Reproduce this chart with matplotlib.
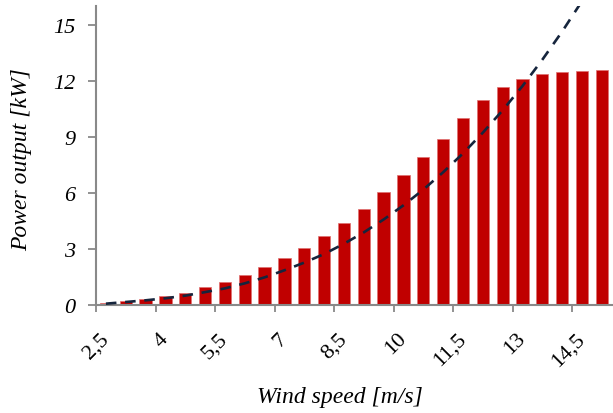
import matplotlib
matplotlib.use("Agg")
import matplotlib.pyplot as plt

# wind speed categories (m/s) and measured power output (kW)
wind_speeds = [2.5, 3, 3.5, 4, 4.5, 5, 5.5, 6, 6.5, 7, 7.5, 8, 8.5, 9, 9.5,
               10, 10.5, 11, 11.5, 12, 12.5, 13, 13.5, 14, 14.5, 15]
power_bars = [0.13, 0.21, 0.32, 0.48, 0.66, 0.95, 1.23, 1.59, 2.03, 2.50,
              3.03, 3.67, 4.40, 5.15, 6.04, 6.95, 7.95, 8.91, 10.02, 10.98,
              11.70, 12.10, 12.35, 12.50, 12.53, 12.59]
# dashed curve, one value per category from 2,5 up to 14,5
power_curve = [0.07, 0.16, 0.25, 0.36, 0.50, 0.69, 0.89, 1.16, 1.48, 1.86,
               2.27, 2.73, 3.28, 3.89, 4.58, 5.34, 6.18, 7.11, 8.12, 9.23,
               10.43, 11.73, 13.14, 14.65, 16.28]
tick_labels = ["2,5", "4", "5,5", "7", "8,5", "10", "11,5", "13", "14,5"]

plt.rcParams["font.family"] = ["Liberation Serif", "DejaVu Serif"]
gray = "#898989"

fig = plt.figure(figsize=(6.13, 4.14), dpi=100)
ax = fig.add_axes([0.1566, 0.2609, 0.8414, 0.7215])

idx = list(range(len(wind_speeds)))
ax.bar(idx, power_bars, width=0.62, color="#C00000", edgecolor="#E07070",
       linewidth=0.5, zorder=2)
ax.plot(list(range(len(power_curve))), power_curve, color="#16253D", lw=1.9,
        dashes=(4, 3.3), zorder=3)

ax.set_xlim(-0.5, len(wind_speeds) - 0.5)
ax.set_ylim(0, 16)

# tick marks at category boundaries, labels at category centres
ax.set_xticks([i - 0.5 for i in range(0, len(wind_speeds), 3)])
ax.set_xticklabels([])
ax.tick_params(axis="x", which="major", direction="out", length=5, width=1.3, color=gray)
ax.set_xticks(list(range(0, len(wind_speeds), 3)), minor=True)
ax.set_xticklabels(tick_labels, minor=True, rotation=45, ha="right", va="center",
                   rotation_mode="anchor", family="Liberation Serif", fontsize=16)
ax.tick_params(axis="x", which="minor", length=0, pad=22)

ax.set_yticks([0, 3, 6, 9, 12, 15])
ax.set_yticklabels(["0", "3", "6", "9", "12", "15"], family="Liberation Serif",
                   style="italic", fontsize=16)
ax.tick_params(axis="y", direction="out", length=6, width=1.3, color=gray, pad=9)

for s in ["top", "right"]:
    ax.spines[s].set_visible(False)
for s in ["left", "bottom"]:
    ax.spines[s].set_color(gray)
    ax.spines[s].set_linewidth(1.5)

fig.text(0.555, 0.04, "Wind speed [m/s]", ha="center", va="center",
         family="Liberation Serif", style="italic", fontsize=17)
fig.text(0.036, 0.615, "Power output [kW]", ha="center", va="center", rotation=90,
         family="Liberation Serif", style="italic", fontsize=17)

fig.savefig("out.png", dpi=100)
